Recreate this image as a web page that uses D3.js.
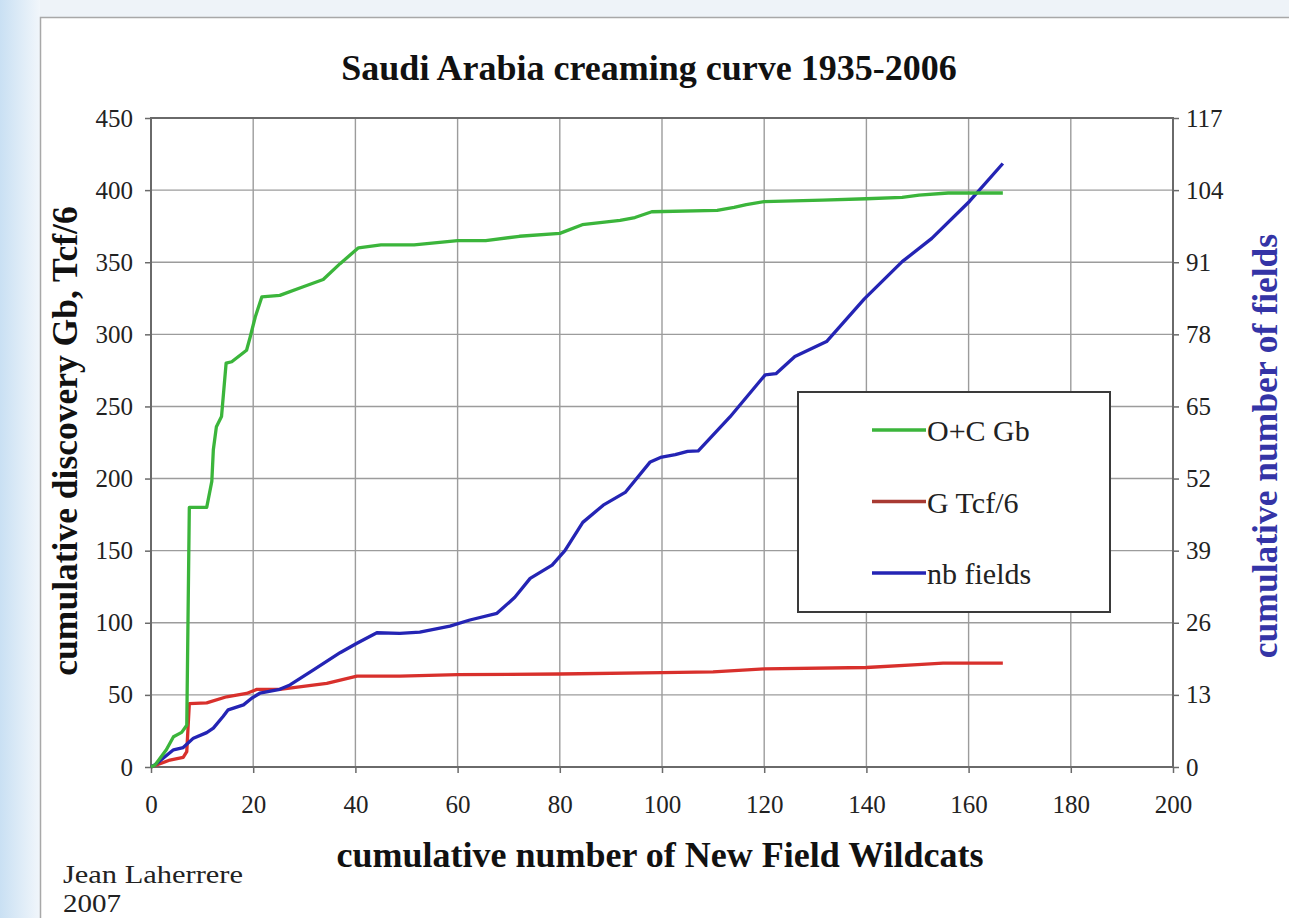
<!DOCTYPE html>
<html>
<head>
<meta charset="utf-8">
<script src="https://cdn.jsdelivr.net/npm/d3@7"></script>
<style>
  html, body { margin: 0; padding: 0; background: #ffffff; }
  svg { display: block; }
  text { font-family: "Liberation Serif", "Times New Roman", serif; }
</style>
</head>
<body>
<svg id="chart" width="1289" height="918"></svg>
<script>
// Cumulative oil+condensate discovery (Gb) vs cumulative new field wildcats
const oilCondensate = [
  [0, 0], [0.8, 1.4], [3, 12], [4.4, 21], [6, 24], [7, 29], [7.5, 180],
  [10.9, 180], [11.9, 198], [12.2, 220], [12.8, 236], [13.8, 243],
  [14.7, 280], [15.8, 281], [18.7, 289], [19.4, 298], [20.4, 312],
  [21.7, 326], [25.2, 327], [29.8, 333], [33.7, 338], [37, 349],
  [40.6, 360], [45, 362], [51.5, 362], [60, 365], [65.5, 365],
  [72.1, 368], [80, 370], [84.4, 376], [91.8, 379], [94.7, 381],
  [98, 385], [110.8, 386], [114.1, 388], [116.5, 390], [120, 392],
  [131.4, 393], [140, 394], [147, 395], [150.3, 396.5], [156, 398],
  [166.7, 398]
];

// Cumulative gas discovery (Tcf/6)
const gasTcf6 = [
  [0, 0], [0.8, 1], [3.7, 4.8], [6.3, 6.7], [7, 10.6], [7.5, 44],
  [10.9, 44.5], [14.8, 48.7], [18.7, 51], [20.7, 53.8], [25.2, 53.8],
  [34.4, 58], [40.3, 63], [48.7, 63], [60, 64], [80, 64.5], [100, 65.5],
  [110, 66], [115, 67], [120, 68], [140, 69], [150, 71], [155, 72],
  [166.7, 72]
];

// Cumulative number of fields (right axis)
const nbFields = [
  [0, 0], [0.8, 0.4], [4.4, 3.1], [6.3, 3.5], [8.3, 5.2], [10.9, 6.2],
  [12.2, 7], [14.1, 9.1], [15.1, 10.3], [18.1, 11.2], [19.7, 12.4],
  [21.3, 13.3], [25.2, 14], [27.2, 14.8], [31.8, 17.5], [37, 20.6],
  [40.3, 22.3], [44.2, 24.2], [48.7, 24.1], [52.6, 24.3], [58.5, 25.4],
  [62.4, 26.5], [67.7, 27.7], [71.2, 30.6], [74.2, 34], [78.5, 36.4],
  [81, 39], [84.5, 44.1], [88.5, 47.2], [92.8, 49.5], [97.7, 55],
  [99.7, 55.8], [102.6, 56.3], [105, 56.9], [107.1, 57], [113.3, 63.1],
  [120.2, 70.7], [122.3, 70.9], [126, 74], [132.2, 76.7], [139.6, 84.4],
  [147, 91.1], [152.8, 95.3], [160.2, 102], [166.7, 108.8]
];

const xTicks = [0, 20, 40, 60, 80, 100, 120, 140, 160, 180, 200];
const leftTicks = [0, 50, 100, 150, 200, 250, 300, 350, 400, 450];
const rightTicks = [0, 13, 26, 39, 52, 65, 78, 91, 104, 117];

const seriesNames = ["O+C Gb", "G Tcf/6", "nb fields"];

const titleText = "Saudi Arabia creaming curve 1935-2006";
const xTitle = "cumulative number of New Field Wildcats";
const yLeftTitle = "cumulative discovery Gb, Tcf/6";
const yRightTitle = "cumulative number of fields";

const svg = d3.select("#chart");
const W = 1289, H = 918;

// page backdrop: pale blue strip on the left, light band on top
const defs = svg.append("defs");
const grad = defs.append("linearGradient").attr("id", "sideGrad")
  .attr("x1", 0).attr("x2", 1).attr("y1", 0).attr("y2", 0);
grad.append("stop").attr("offset", "0%").attr("stop-color", "#c9e0f3");
grad.append("stop").attr("offset", "100%").attr("stop-color", "#f1f6fb");
svg.append("rect").attr("x", 0).attr("y", 0).attr("width", W).attr("height", H).attr("fill", "#eef3f8");
svg.append("rect").attr("x", 0).attr("y", 0).attr("width", 40).attr("height", H).attr("fill", "url(#sideGrad)");

// white chart panel
svg.append("rect").attr("x", 40.5).attr("y", 17.5).attr("width", W).attr("height", H)
  .attr("fill", "#ffffff").attr("stroke", "#a8a8a8").attr("stroke-width", 1.5);

const plot = { left: 151, right: 1173, top: 118, bottom: 767 };

const x = d3.scaleLinear().domain([0, 200]).range([plot.left, plot.right]);
const yL = d3.scaleLinear().domain([0, 450]).range([plot.bottom, plot.top]);
const yR = d3.scaleLinear().domain([0, 117]).range([plot.bottom, plot.top]);

// gridlines
const grid = svg.append("g");
grid.selectAll("line.v").data(xTicks.slice(1, -1)).join("line")
  .attr("x1", d => x(d)).attr("x2", d => x(d))
  .attr("y1", plot.top).attr("y2", plot.bottom)
  .attr("stroke", "#9c9c9c").attr("stroke-width", 1.4);
grid.selectAll("line.h").data(leftTicks.slice(1, -1)).join("line")
  .attr("x1", plot.left).attr("x2", plot.right)
  .attr("y1", d => yL(d)).attr("y2", d => yL(d))
  .attr("stroke", "#9c9c9c").attr("stroke-width", 1.4);

// plot frame
svg.append("rect").attr("x", plot.left).attr("y", plot.top)
  .attr("width", plot.right - plot.left).attr("height", plot.bottom - plot.top)
  .attr("fill", "none").attr("stroke", "#6a6a6a").attr("stroke-width", 2);

function styleAxis(g) {
  g.select(".domain").remove();
  g.selectAll(".tick line").attr("stroke", "#6a6a6a").attr("stroke-width", 1.5);
  g.selectAll(".tick text").attr("font-size", 25).attr("fill", "#222")
    .style("font-family", "'Liberation Serif', 'Times New Roman', serif");
}

svg.append("g").attr("transform", `translate(${plot.left},0)`)
  .call(d3.axisLeft(yL).tickValues(leftTicks).tickSize(6).tickPadding(12).tickFormat(d3.format("d")))
  .call(styleAxis);

svg.append("g").attr("transform", `translate(${plot.right},0)`)
  .call(d3.axisRight(yR).tickValues(rightTicks).tickSize(6).tickPadding(7).tickFormat(d3.format("d")))
  .call(styleAxis);

svg.append("g").attr("transform", `translate(0,${plot.bottom})`)
  .call(d3.axisBottom(x).tickValues(xTicks).tickSize(6).tickPadding(22).tickFormat(d3.format("d")))
  .call(styleAxis);

// series lines
const lineL = d3.line().x(d => x(d[0])).y(d => yL(d[1]));
const lineR = d3.line().x(d => x(d[0])).y(d => yR(d[1]));

const colors = ["#3bb53b", "#d8302c", "#2424b4"];

svg.append("path").datum(gasTcf6).attr("d", lineL)
  .attr("fill", "none").attr("stroke", colors[1]).attr("stroke-width", 3.3)
  .attr("stroke-linejoin", "round");
svg.append("path").datum(nbFields).attr("d", lineR)
  .attr("fill", "none").attr("stroke", colors[2]).attr("stroke-width", 3.3)
  .attr("stroke-linejoin", "round");
svg.append("path").datum(oilCondensate).attr("d", lineL)
  .attr("fill", "none").attr("stroke", colors[0]).attr("stroke-width", 3.3)
  .attr("stroke-linejoin", "round");

// legend
const legend = svg.append("g");
legend.append("rect").attr("x", 798).attr("y", 392).attr("width", 312).attr("height", 220)
  .attr("fill", "#ffffff").attr("stroke", "#3a3a3a").attr("stroke-width", 2);
const legendColors = ["#3bb53b", "#a83a32", "#2424b4"];
seriesNames.forEach((name, i) => {
  const ly = 430 + i * 71.5;
  legend.append("line").attr("x1", 872).attr("x2", 926).attr("y1", ly).attr("y2", ly)
    .attr("stroke", legendColors[i]).attr("stroke-width", 3.3);
  legend.append("text").attr("x", 927).attr("y", ly + 11).attr("font-size", 30)
    .attr("fill", "#222").text(name);
});

// titles
svg.append("text").attr("x", 649).attr("y", 80).attr("text-anchor", "middle")
  .attr("font-size", 36).attr("font-weight", "bold").attr("fill", "#111").text(titleText);

svg.append("text").attr("x", 660).attr("y", 867).attr("text-anchor", "middle")
  .attr("font-size", 36).attr("font-weight", "bold").attr("fill", "#111").text(xTitle);

svg.append("text").attr("transform", "translate(77,441) rotate(-90)").attr("text-anchor", "middle")
  .attr("font-size", 35.5).attr("font-weight", "bold").attr("fill", "#111").text(yLeftTitle);

svg.append("text").attr("transform", "translate(1277,446) rotate(-90)").attr("text-anchor", "middle")
  .attr("font-size", 35.5).attr("font-weight", "bold").attr("fill", "#3434a6").text(yRightTitle);

// author credit
svg.append("text").attr("x", 63).attr("y", 883).attr("font-size", 25)
  .attr("textLength", 180).attr("lengthAdjust", "spacingAndGlyphs")
  .attr("fill", "#222").text("Jean Laherrere");
svg.append("text").attr("x", 63).attr("y", 912).attr("font-size", 25)
  .attr("textLength", 58).attr("lengthAdjust", "spacingAndGlyphs")
  .attr("fill", "#222").text("2007");
</script>
</body>
</html>
